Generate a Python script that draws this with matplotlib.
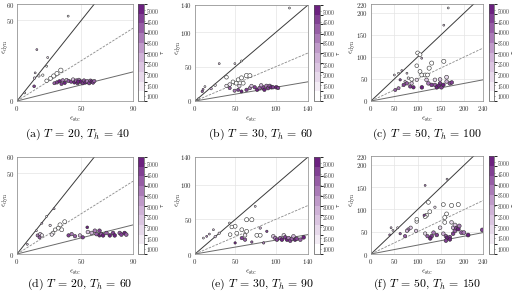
import numpy as np
import matplotlib
matplotlib.use('Agg')
import matplotlib.pyplot as plt
from matplotlib.colors import LinearSegmentedColormap, BoundaryNorm

plt.rcParams['font.family'] = 'serif'
plt.rcParams['font.serif'] = ['cmr10', 'DejaVu Serif']
plt.rcParams['mathtext.fontset'] = 'cm'
plt.rcParams['axes.unicode_minus'] = False
plt.rcParams['axes.formatter.use_mathtext'] = True

# (a) T=20, Th=40
a_stc = [39.7, 15.4, 23.8, 14.1, 23.0, 13.6, 17.0, 20.0, 13.3, 6.0, 23.0, 26.0, 28.5, 31.0, 34.0,
         29.0, 31.0, 33.0, 34.5, 35.5, 37.0, 38.5, 40.0, 42.0, 43.5, 44.5, 46.0, 47.0, 48.0, 49.5,
         51.0, 52.0, 53.0, 54.5, 56.0, 57.0, 58.0, 59.0, 60.0, 47.5]
a_dyn = [52.5, 31.8, 26.9, 17.4, 21.5, 14.2, 15.5, 16.0, 9.1, 5.0, 12.5, 14.0, 15.5, 17.0, 19.0,
         11.0, 11.5, 12.2, 10.5, 12.8, 11.2, 13.0, 12.4, 12.0, 13.3, 11.5, 12.6, 11.0, 13.0, 12.0,
         11.0, 12.6, 11.5, 12.2, 11.0, 12.6, 12.0, 11.4, 12.3, 12.0]
a_r = [1400, 3200, 1800, 2400, 1200, 2000, 1300, 1000, 4500, 1500, 900, 900, 900, 900, 900,
       4000, 4500, 5000, 4500, 3500, 5000, 3000, 4000, 4500, 2500, 5000, 4000, 4500, 3500, 5000,
       4500, 4000, 5000, 3500, 4500, 4000, 5000, 4500, 4000, 5000]
a_s = [2, 2, 2, 2, 2, 3, 3, 3, 4, 2, 7, 8, 9, 9, 10,
       5, 6, 6, 5, 6, 6, 6, 6, 6, 6, 6, 7, 6, 7, 7,
       6, 7, 6, 7, 6, 6, 7, 6, 6, 6]

# (b) T=30, Th=60
b_stc = [117, 30, 49.4, 57.6, 39, 10, 12.3, 9, 20, 25, 4, 53.5, 57.6, 63.8, 68, 51, 47, 59.7, 43, 39,
         55, 43, 49, 53.5, 57.6, 63.8, 68, 70, 74, 77, 80, 84, 86, 88.5, 90.5, 92.6, 94.7, 96.7,
         100.8, 103, 82]
b_dyn = [135.6, 54.5, 54.5, 58.4, 34.6, 17, 21, 14, 18, 23, 3, 31, 33.7, 37, 37, 26, 28, 26, 24, 22,
         22, 18.8, 15, 16.3, 14, 16.3, 18.8, 22, 20, 16.3, 18.8, 20, 16.3, 22, 18.8, 22, 20, 20,
         20, 19, 23]
b_r = [1500, 2500, 1800, 1200, 900, 3500, 2000, 4000, 3000, 1500, 1000, 900, 1000, 900, 900, 1100,
       900, 1200, 1300, 1500, 2000, 4000, 3500, 4500, 5000, 4500, 3500, 2500, 4500, 5000, 4000,
       4500, 5000, 3500, 4500, 4000, 5000, 4500, 5000, 4500, 3000]
b_s = [2, 2, 2, 2, 7, 2, 2, 3, 3, 3, 2, 8, 9, 10, 9, 8, 7, 8, 7, 6,
       6, 5, 5, 5, 5, 6, 6, 6, 6, 6, 7, 7, 6, 7, 7, 7, 7, 6, 7, 6, 6]

# (c) T=50, Th=100
c_stc = [165.5, 156, 100, 105, 108.7, 98, 50, 59, 66, 77, 156, 130, 124.6, 105, 108.7, 116, 121, 87,
         80, 52, 59, 62.5, 70, 73, 77, 84, 87, 91, 98, 109, 119, 123, 130, 137, 137, 141, 148, 148,
         151, 155, 162, 162, 169, 173, 145]
c_dyn = [211, 172, 109, 105, 97, 80, 59, 63, 69, 63, 90, 86, 74.5, 67, 59, 59, 59, 49,
         52, 25, 29, 48, 36.5, 44, 40, 33, 40, 31, 48, 31, 48, 40, 36.5, 36.5, 48, 31, 40, 49,
         31, 36.5, 44, 54, 40, 42, 35]
c_r = [1500, 2500, 900, 900, 3000, 900, 2000, 1500, 3000, 2500, 900, 900, 900, 1000, 900, 1000, 900,
       1200, 1500, 4000, 3500, 4500, 4500, 3000, 4000, 4500, 2500, 5000, 2000, 5000, 2500, 3500,
       4500, 4000, 2000, 5000, 4500, 2500, 4500, 5000, 3000, 2000, 4000, 4500, 5000]
c_s = [2, 2, 8, 8, 2, 7, 2, 2, 2, 2, 9, 9, 9, 8, 8, 8, 8, 7,
       3, 5, 5, 3, 6, 3, 6, 6, 6, 6, 6, 7, 7, 7, 7, 7, 7, 7, 7, 7,
       7, 7, 7, 8, 7, 7, 6]

# (d) T=20, Th=60
d_stc = [28.8, 23, 19.3, 15, 37, 33.4, 32, 34.7, 29.6, 28, 25.7, 27, 16, 18, 19.3, 17.5, 8,
         40, 42.4, 45, 48.8, 51, 54.5, 55, 58, 60.4, 61.7, 64, 64, 65.5, 66.8, 69.4, 72, 74.5,
         75.8, 79.7, 81, 83.5, 84.8]
d_dyn = [28, 23.3, 19, 14.4, 20, 18, 16, 15, 15, 13, 17.7, 12, 11.5, 12.3, 11.5, 10.3, 6,
         11.5, 12.3, 11, 11.5, 10.3, 16.5, 13.6, 13, 14.4, 12.3, 14.4, 11.5, 12.3, 11.5, 13, 11.5, 13,
         11.5, 13, 12, 13, 12]
d_r = [2500, 1500, 3000, 2000, 900, 900, 900, 1000, 1100, 1000, 2000, 1500, 3500, 2500, 1500, 4000,
       2500, 4500, 3500, 4000, 3000, 4500, 5000, 2500, 3000, 3500, 4000, 4500, 5000, 4000, 5000,
       4000, 5000, 4500, 5000, 4000, 4500, 5000, 4000]
d_s = [2, 2, 2, 2, 8, 9, 8, 8, 7, 7, 3, 6, 5, 6, 6, 5, 2,
       6, 6, 6, 6, 6, 4, 7, 7, 7, 7, 7, 6, 7, 7, 7, 7, 7, 7, 7, 7, 7, 7]

# (e) T=30, Th=90
e_stc = [74.6, 42.7, 22.8, 17.8, 10.4, 14.5, 25, 30, 64, 70.4, 49.7, 51.8, 58, 64, 76.6, 80.8, 62,
         43.5, 45.6, 58, 62, 80.8, 89, 49.7, 70.4, 85, 97, 99.4, 101.5, 105.6, 107.7, 110, 111.8,
         114, 116, 118, 120, 122, 124, 126, 130.5, 134.6]
e_dyn = [68.8, 44.7, 35, 28.8, 23, 25.5, 25, 30, 49.5, 49.5, 40, 30, 35, 32.7, 27, 27, 27,
         28, 39, 23, 20.7, 37.5, 32.7, 16, 17.3, 16, 25.5, 23, 20.7, 23, 20.7, 27, 24,
         20.7, 23, 19.2, 22, 25.5, 20.7, 22, 20.7, 24]
e_r = [2000, 1500, 2500, 3000, 2000, 3500, 2500, 2000, 900, 900, 900, 1000, 900, 1000, 1200, 1100,
       1500, 1200, 900, 4500, 4000, 3000, 4500, 5000, 4000, 3500, 2500, 3500, 4500, 4000, 5000, 2000,
       4500, 5000, 3500, 4500, 4000, 3000, 5000, 4500, 4000, 5000]
e_s = [2, 2, 2, 2, 2, 2, 3, 3, 9, 9, 8, 8, 8, 8, 8, 8, 7,
       7, 7, 6, 6, 3, 3, 3, 3, 3, 7, 7, 7, 7, 7, 7, 7,
       7, 7, 7, 7, 7, 7, 7, 7, 7]

# (f) T=50, Th=150
f_stc = [163, 116, 123, 126, 119, 116, 137, 114, 43, 47, 40, 57, 62.5, 98, 98, 172.6, 187, 155, 162,
         158, 158, 148, 172.6, 80, 77, 85, 73, 96.6, 116, 121, 130, 134, 127, 141, 155, 160.5, 163,
         160.5, 169, 169, 176, 176, 180, 180, 183, 187, 189, 194, 199, 208, 238.6]
f_dyn = [168, 154, 116, 95, 87, 84, 105, 87, 59, 53, 43, 59, 45.6, 73, 78, 109, 111, 111, 90,
         82, 71, 59, 71, 55, 52, 59, 40, 52, 46, 40, 40, 48, 35, 42.6, 45.6, 40, 36.5,
         30, 38, 32.7, 59, 45.6, 52, 65, 58, 56, 63, 48, 48, 42.6, 54]
f_r = [2500, 3500, 900, 900, 1000, 900, 2000, 4500, 3000, 2500, 3500, 2000, 4000, 900, 1000, 900, 900,
       900, 1000, 900, 1200, 2000, 2000, 3500, 3000, 2500, 4000, 2500, 2000, 4000, 4500, 3500, 5000,
       4500, 3000, 4000, 5000, 4500, 4500, 5000, 3000, 4500, 4000, 2500, 4500, 5000, 3500, 4000,
       3500, 5000, 4500]
f_s = [2, 2, 8, 8, 8, 8, 3, 3, 2, 2, 2, 2, 3, 7, 7, 9, 9, 8, 8,
       8, 8, 7, 7, 6, 6, 6, 6, 6, 6, 6, 7, 7, 7, 7, 7, 7, 7,
       7, 7, 7, 7, 7, 8, 8, 8, 8, 8, 8, 8, 8, 8]

captions = [r'(a) $T$ = 20, $T_h$ = 40', r'(b) $T$ = 30, $T_h$ = 60', r'(c) $T$ = 50, $T_h$ = 100',
            r'(d) $T$ = 20, $T_h$ = 60', r'(e) $T$ = 30, $T_h$ = 90', r'(f) $T$ = 50, $T_h$ = 150']
xlims = [90, 140, 240, 90, 140, 240]
ylims = [60, 140, 220, 60, 140, 220]
xticks = [[0, 50, 90], [0, 50, 100, 140], [0, 50, 100, 150, 200, 240]] * 2
yticks = [[0, 50, 60], [0, 50, 100, 140], [0, 50, 100, 150, 200, 220]] * 2
slopes = [1.0, 0.5, 0.2]
cbar_ticks = [1000, 1500, 2000, 2500, 3000, 3500, 4000, 4500, 5000]

data = [(a_stc, a_dyn, a_r, a_s), (b_stc, b_dyn, b_r, b_s), (c_stc, c_dyn, c_r, c_s),
        (d_stc, d_dyn, d_r, d_s), (e_stc, e_dyn, e_r, e_s), (f_stc, f_dyn, f_r, f_s)]

cmap = LinearSegmentedColormap.from_list('pur', ['#ffffff', '#c9a8d2', '#6c2180'])
bounds = np.linspace(750, 5300, 11)
norm = BoundaryNorm(bounds, cmap.N)

W, H = 512, 296
fig = plt.figure(figsize=(W / 100, H / 100), dpi=100)


def box(l, t, r, b):
    return [l / W, 1 - b / H, (r - l) / W, (b - t) / H]


ax_px = [(17, 4, 133, 101), (195, 5, 308, 101), (371, 4, 483, 101),
         (17, 157, 133, 254), (195, 157, 308, 254), (371, 156, 483, 254)]
cb_px = [(138, 4, 143.5, 101), (314, 5, 319.5, 101), (489, 4, 494, 101),
         (138, 157, 143.5, 254), (314, 157, 319.5, 254), (489, 156, 494, 254)]
cap_xy = [(77, 134), (261, 134), (427, 134), (80, 284), (262, 284), (427, 284)]
ylab_x = [11, 184.5, 358.5, 11, 184.5, 358.5]

for i in range(6):
    stc, dyn, r, s = data[i]
    ax = fig.add_axes(box(*ax_px[i]))
    xm, ym = xlims[i], ylims[i]
    xx = np.array([0, xm])
    ax.plot(xx, slopes[0] * xx, color='#3a3a3a', lw=0.7, zorder=2)
    ax.plot(xx, slopes[1] * xx, color='#8a8a8a', lw=0.6, ls=(0, (3, 1.5)), zorder=2)
    ax.plot(xx, slopes[2] * xx, color='#6a6a6a', lw=0.7, zorder=2)
    sc = ax.scatter(stc, dyn, c=r, s=s, cmap=cmap, norm=norm, edgecolors='#2e2e2e',
                    linewidths=0.4, zorder=3)
    ax.set_xlim(0, xm)
    ax.set_ylim(0, ym)
    ax.set_xticks(xticks[i])
    ax.set_yticks(yticks[i])
    ax.grid(True, color='#e4e4e4', lw=0.5, zorder=0)
    ax.set_axisbelow(True)
    ax.tick_params(labelsize=5, length=0, pad=2, colors='#333333')
    for sp in ax.spines.values():
        sp.set_color('#888888')
        sp.set_linewidth(0.5)
    ax.set_xlabel(r'$\epsilon_{\rm stc}$', fontsize=6, labelpad=1.5, color='#333333')
    ax.set_ylabel(r'$\epsilon_{\rm dyn}$', fontsize=6, color='#333333')
    l, t, rr, b = ax_px[i]
    ax.yaxis.set_label_coords((ylab_x[i] - l) / (rr - l), 0.56)

    cax = fig.add_axes(box(*cb_px[i]))
    cb = fig.colorbar(sc, cax=cax, ticks=cbar_ticks)
    cb.outline.set_linewidth(0.5)
    cb.outline.set_edgecolor('#555555')
    cax.tick_params(labelsize=4.0, length=1, width=0.4, pad=1, colors='#333333')
    cb.set_label(r'$\tau$', fontsize=4.5, rotation=90, labelpad=0)

    fig.text(cap_xy[i][0] / W, 1 - cap_xy[i][1] / H, captions[i], fontsize=8.5,
             ha='center', va='center')

fig.savefig('out.png', dpi=100)
